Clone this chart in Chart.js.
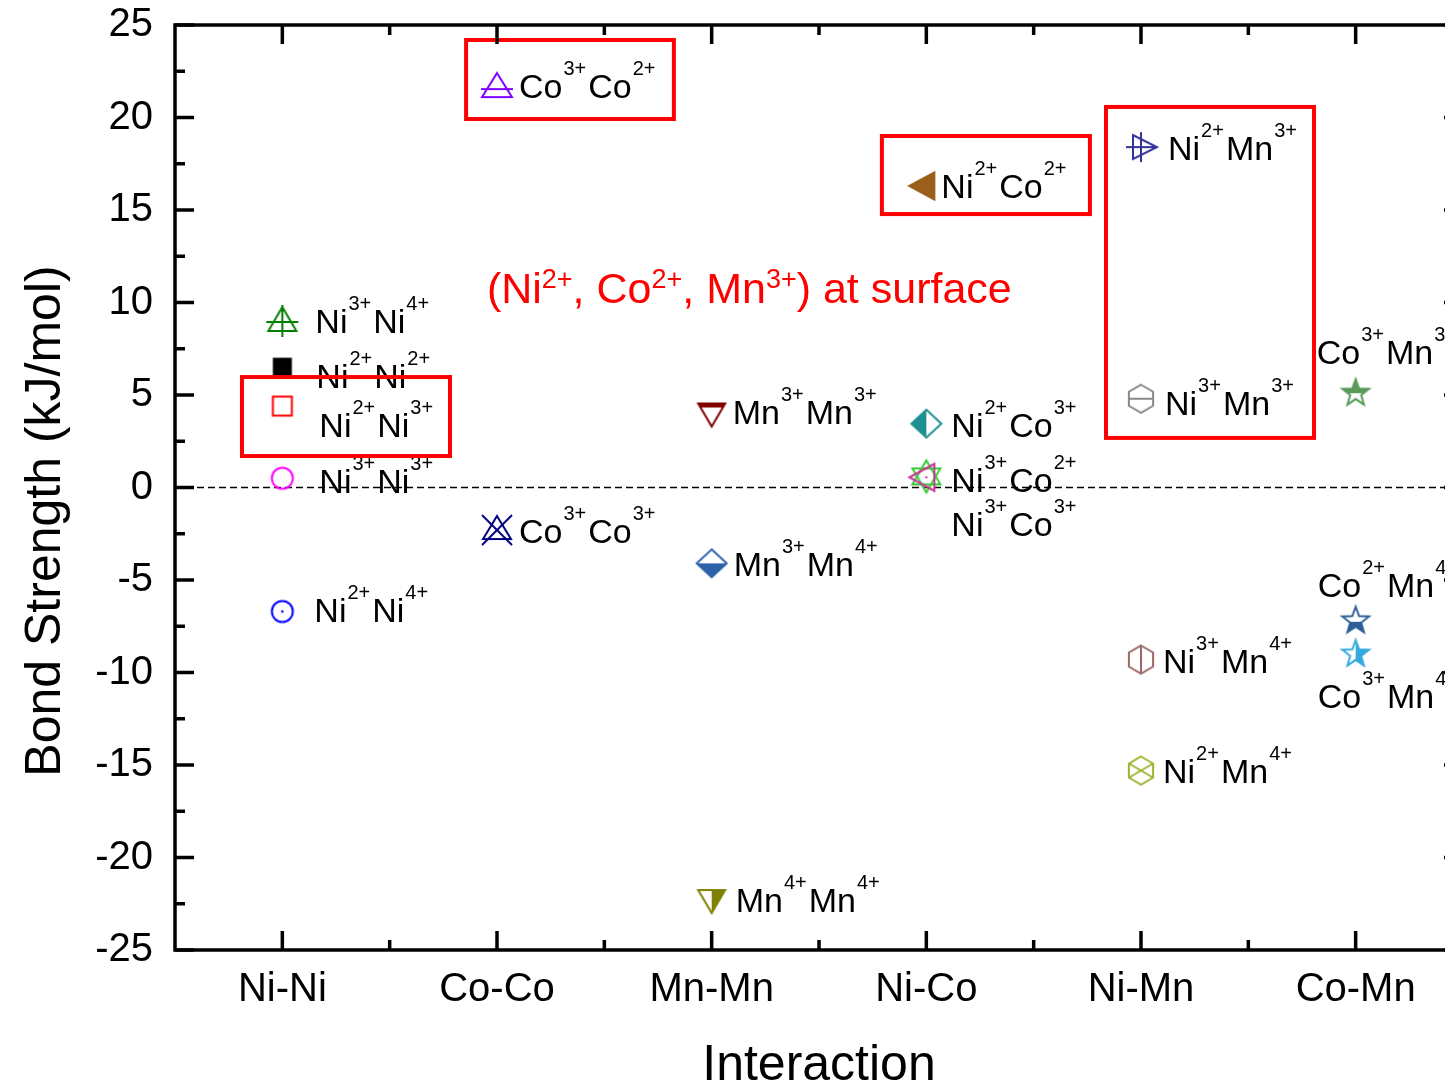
<!DOCTYPE html>
<html>
<head>
<meta charset="utf-8">
<script src="https://cdn.jsdelivr.net/npm/chart.js@4/dist/chart.umd.min.js"></script>
<style>
html, body { margin: 0; padding: 0; background: #fff; overflow: hidden; }
#wrap { width: 1480px; height: 1086px; }
</style>
</head>
<body>
<div id="wrap"><canvas id="myChart" width="1480" height="1086"></canvas></div>
<script>
// data
var categories = ["Ni-Ni", "Co-Co", "Mn-Mn", "Ni-Co", "Ni-Mn", "Co-Mn"];
var yTicks = [-25, -20, -15, -10, -5, 0, 5, 10, 15, 20, 25];
var pairLabels = [
    "Ni3+Ni4+", "Ni2+Ni2+", "Ni2+Ni3+", "Ni3+Ni3+", "Ni2+Ni4+",
    "Co3+Co2+", "Co3+Co3+",
    "Mn3+Mn3+", "Mn3+Mn4+", "Mn4+Mn4+",
    "Ni2+Co2+", "Ni2+Co3+", "Ni3+Co2+", "Ni3+Co3+",
    "Ni2+Mn3+", "Ni3+Mn3+", "Ni3+Mn4+", "Ni2+Mn4+",
    "Co3+Mn3+", "Co2+Mn4+", "Co3+Mn4+",
];
var pairCategory = [
    "Ni-Ni", "Ni-Ni", "Ni-Ni", "Ni-Ni", "Ni-Ni",
    "Co-Co", "Co-Co",
    "Mn-Mn", "Mn-Mn", "Mn-Mn",
    "Ni-Co", "Ni-Co", "Ni-Co", "Ni-Co",
    "Ni-Mn", "Ni-Mn", "Ni-Mn", "Ni-Mn",
    "Co-Mn", "Co-Mn", "Co-Mn",
];
var bondStrength = [
    9.0, 6.5, 4.4, 0.5, -6.7,
    21.75, -2.3,
    4.0, -4.1, -22.3,
    16.3, 3.45, 0.55, 0.6,
    18.4, 4.8, -9.3, -15.3,
    5.15, -7.15, -8.95,
];

// marker styles, one per pair
var markerStyles = [
    { shape: "triCross", color: "#008000" },
    { shape: "squareFill", color: "#000000" },
    { shape: "square", color: "#ff0000" },
    { shape: "circle", color: "#ff00ff" },
    { shape: "circleDot", color: "#0000ff" },
    { shape: "triLine", color: "#8000ff" },
    { shape: "triX", color: "#000080" },
    { shape: "triDownTop", color: "#800000" },
    { shape: "diamondBottom", color: "#2d62a8" },
    { shape: "triDownRight", color: "#808000" },
    { shape: "triLeftFill", color: "#9a5f1a" },
    { shape: "diamondLeft", color: "#1a9090" },
    { shape: "triLeftDot", color: "#cc3399" },
    { shape: "hexagram", color: "#33cc33" },
    { shape: "triRightCross", color: "#333399" },
    { shape: "hexH", color: "#888888" },
    { shape: "hexV", color: "#9a6666" },
    { shape: "hexX", color: "#9cb430" },
    { shape: "starTop", color: "#5a9a5a" },
    { shape: "starBottom", color: "#2e5f99" },
    { shape: "starRight", color: "#33aadd" },
];
// label offset from the point, pixels [dx, baseline dy]
var labelOffsets = [
    [33, 12], [34, 21], [37, 31], [37, 15], [32, 11],
    [22, 13], [22, 13],
    [21, 10], [22, 13], [24, 12],
    [15, 12], [25, 13], [25, 15], [25, 60],
    [27, 13], [24, 16], [22, 13], [22, 12],
    [-39, -28], [-38, -23], [-38, 55],
];
// red frames in data units [x1, x2, yTop, yBottom]
var redBoxes = [
    [0.812, 1.781, 5.97, 1.70],
    [1.856, 2.824, 24.19, 19.92],
    [3.793, 4.762, 19.0, 14.78],
    [4.837, 5.806, 20.57, 2.68],
];

var FONT = "'Liberation Sans', Arial, sans-serif";

function triPath(g, pts) {
    g.beginPath();
    g.moveTo(pts[0][0], pts[0][1]);
    for (var i = 1; i < pts.length; i++) g.lineTo(pts[i][0], pts[i][1]);
    g.closePath();
}
function starPts(ro, ri) {
    var p = [];
    for (var i = 0; i < 10; i++) {
        var r = i % 2 ? ri : ro;
        var a = -Math.PI / 2 + i * Math.PI / 5;
        p.push([r * Math.cos(a), r * Math.sin(a) + 1]);
    }
    return p;
}
function hexPts(r) {
    var p = [];
    for (var i = 0; i < 6; i++) {
        var a = -Math.PI / 2 + i * Math.PI / 3;
        p.push([r * Math.cos(a), r * Math.sin(a)]);
    }
    return p;
}
function line(g, x1, y1, x2, y2) {
    g.beginPath();
    g.moveTo(x1, y1);
    g.lineTo(x2, y2);
    g.stroke();
}
function halfFill(g, pts, cx, cy, cw, ch) {
    g.save();
    g.beginPath();
    g.rect(cx, cy, cw, ch);
    g.clip();
    triPath(g, pts);
    g.fill();
    g.restore();
    triPath(g, pts);
    g.stroke();
}

function makeMarker(m) {
    var c = document.createElement("canvas");
    c.width = 44;
    c.height = 44;
    var g = c.getContext("2d");
    g.translate(22, 22);
    g.strokeStyle = m.color;
    g.fillStyle = m.color;
    g.lineWidth = 2;
    var down = [[-13.5, -10], [13.5, -10], [0, 13]];
    var left = [[-17, 0], [8, -13.5], [8, 13.5]];
    var diamond = [[0, -14], [15, 0], [0, 14], [-15, 0]];
    var hex = hexPts(14);
    var star = starPts(14, 5.8);
    switch (m.shape) {
        case "triCross":
            triPath(g, [[0, -14], [14, 10], [-14, 10]]);
            g.stroke();
            line(g, -16, 1, 16, 1);
            line(g, 0, -16, 0, 16);
            break;
        case "squareFill":
            g.fillRect(-9.5, -9.5, 19, 19);
            break;
        case "square":
            g.strokeRect(-9.5, -9.5, 19, 19);
            break;
        case "circle":
            g.beginPath();
            g.arc(0, 0, 10.5, 0, Math.PI * 2);
            g.stroke();
            break;
        case "circleDot":
            g.beginPath();
            g.arc(0, 0, 10.5, 0, Math.PI * 2);
            g.stroke();
            g.beginPath();
            g.arc(0, 0, 1.3, 0, Math.PI * 2);
            g.fill();
            break;
        case "triLine":
            triPath(g, [[0, -12], [15, 12], [-15, 12]]);
            g.stroke();
            line(g, -16, 4, 16, 4);
            break;
        case "triX":
            triPath(g, [[0, -14], [14, 9], [-14, 9]]);
            g.stroke();
            line(g, -15, -15, 15, 15);
            line(g, 15, -15, -15, 15);
            break;
        case "triDownTop":
            halfFill(g, down, -20, -12, 40, 6);
            break;
        case "triDownRight":
            halfFill(g, down, 0, -20, 20, 40);
            break;
        case "diamondBottom":
            halfFill(g, diamond, -20, 0, 40, 20);
            break;
        case "diamondLeft":
            halfFill(g, diamond, -20, -20, 20, 40);
            break;
        case "triLeftFill":
            triPath(g, left);
            g.fill();
            g.stroke();
            break;
        case "triLeftDot":
            triPath(g, left);
            g.stroke();
            g.fillRect(-1, -1, 2, 2);
            break;
        case "hexagram":
            triPath(g, [[0, -16], [14, 8], [-14, 8]]);
            g.stroke();
            triPath(g, [[0, 16], [14, -8], [-14, -8]]);
            g.stroke();
            break;
        case "triRightCross":
            triPath(g, [[-8, -12], [16, 0], [-8, 12]]);
            g.stroke();
            line(g, -15, 0, 16, 0);
            line(g, 0, -15, 0, 15);
            break;
        case "hexH":
            triPath(g, hex);
            g.stroke();
            line(g, -12, 0, 12, 0);
            break;
        case "hexV":
            triPath(g, hex);
            g.stroke();
            line(g, 0, -14, 0, 14);
            break;
        case "hexX":
            triPath(g, hex);
            g.stroke();
            line(g, -12, -7, 12, 7);
            line(g, 12, -7, -12, 7);
            break;
        case "starTop":
            halfFill(g, star, -20, -20, 40, 21);
            break;
        case "starBottom":
            halfFill(g, star, -20, 2, 40, 20);
            break;
        case "starRight":
            halfFill(g, star, 0, -20, 20, 40);
            break;
    }
    return c;
}

// "Ni3+Ni4+" -> [["Ni","3+"],["Ni","4+"]]
function splitIons(s) {
    var out = [];
    var re = /([A-Z][a-z]?)(\d\+)/g;
    var m;
    while ((m = re.exec(s))) out.push([m[1], m[2]]);
    return out;
}

function drawIons(ctx, parts, x, y, big, small, rise, color) {
    ctx.fillStyle = color;
    ctx.textAlign = "left";
    ctx.textBaseline = "alphabetic";
    for (var i = 0; i < parts.length; i++) {
        ctx.font = big + "px " + FONT;
        ctx.fillText(parts[i][0], x, y);
        x += ctx.measureText(parts[i][0]).width + 1;
        ctx.font = small + "px " + FONT;
        ctx.fillText(parts[i][1], x, y - rise);
        x += ctx.measureText(parts[i][1]).width + 2;
    }
}

var overlay = {
    id: "overlay",
    beforeDatasetsDraw: function (chart) {
        var ctx = chart.ctx;
        var a = chart.chartArea;
        var y0 = chart.scales.y.getPixelForValue(0);
        ctx.save();
        ctx.strokeStyle = "#000";
        ctx.lineWidth = 1.5;
        ctx.setLineDash([7, 4]);
        line(ctx, a.left, y0, a.right, y0);
        ctx.restore();
    },
    afterDatasetsDraw: function (chart) {
        var ctx = chart.ctx;
        var xs = chart.scales.x;
        var ys = chart.scales.y;
        var a = chart.chartArea;
        ctx.save();

        // point labels
        for (var i = 0; i < pairLabels.length; i++) {
            var px = xs.getPixelForValue(categories.indexOf(pairCategory[i]) + 1);
            var py = ys.getPixelForValue(bondStrength[i]);
            drawIons(ctx, splitIons(pairLabels[i]), px + labelOffsets[i][0], py + labelOffsets[i][1], 34, 20, 23, "#000");
        }

        // red frames
        ctx.strokeStyle = "#ff0000";
        ctx.lineWidth = 4;
        redBoxes.forEach(function (b) {
            var x1 = xs.getPixelForValue(b[0]);
            var x2 = xs.getPixelForValue(b[1]);
            var y1 = ys.getPixelForValue(b[2]);
            var y2 = ys.getPixelForValue(b[3]);
            ctx.strokeRect(x1, y1, x2 - x1, y2 - y1);
        });

        // red note
        var nx = xs.getPixelForValue(1.953);
        var ny = ys.getPixelForValue(9.97);
        var parts = [["(Ni", "2+"], [", Co", "2+"], [", Mn", "3+"]];
        ctx.fillStyle = "#ff0000";
        var x = nx;
        parts.forEach(function (p) {
            ctx.font = "43px " + FONT;
            ctx.fillText(p[0], x, ny);
            x += ctx.measureText(p[0]).width;
            ctx.font = "27px " + FONT;
            ctx.fillText(p[1], x, ny - 15);
            x += ctx.measureText(p[1]).width;
        });
        ctx.font = "43px " + FONT;
        ctx.fillText(") at surface", x, ny);

        // frame and inward ticks
        ctx.strokeStyle = "#000";
        ctx.lineWidth = 3.5;
        ctx.strokeRect(a.left, a.top, a.right - a.left, a.bottom - a.top);
        for (var v = -25; v <= 25; v += 2.5) {
            var ty = ys.getPixelForValue(v);
            var len = v % 5 === 0 ? 19 : 10;
            line(ctx, a.left, ty, a.left + len, ty);
            line(ctx, a.right, ty, a.right - len, ty);
        }
        for (var k = 1; k <= 6; k += 0.5) {
            var tx = xs.getPixelForValue(k);
            var l2 = k % 1 === 0 ? 19 : 10;
            line(ctx, tx, a.bottom, tx, a.bottom - l2);
            line(ctx, tx, a.top, tx, a.top + l2);
        }

        // axis titles
        ctx.fillStyle = "#000";
        ctx.font = "50px " + FONT;
        ctx.textAlign = "center";
        ctx.fillText("Interaction", (a.left + a.right) / 2, 1080);
        ctx.translate(60, 521);
        ctx.rotate(-Math.PI / 2);
        ctx.fillText("Bond Strength (kJ/mol)", 0, 0);
        ctx.restore();
    },
};

var datasets = pairLabels.map(function (lab, i) {
    return {
        label: lab,
        data: [{ x: categories.indexOf(pairCategory[i]) + 1, y: bondStrength[i] }],
        pointStyle: makeMarker(markerStyles[i]),
        pointRadius: 12,
        showLine: false,
    };
});

var ctx = document.getElementById("myChart");
var myChart = new Chart(ctx, {
    type: "scatter",
    data: { datasets: datasets },
    plugins: [overlay],
    options: {
        responsive: false,
        animation: false,
        devicePixelRatio: 1,
        layout: { padding: { top: 25, right: 17, bottom: 0, left: 0 } },
        plugins: { legend: { display: false }, tooltip: { enabled: false } },
        scales: {
            x: {
                type: "linear",
                min: 0.5,
                max: 6.5,
                afterBuildTicks: function (s) {
                    s.ticks = categories.map(function (c, i) { return { value: i + 1 }; });
                },
                afterFit: function (s) {
                    s.height = 136;
                    s.paddingLeft = 0;
                    s.paddingRight = 0;
                },
                grid: { display: false, drawTicks: false },
                border: { display: false },
                ticks: {
                    padding: 16,
                    color: "#000",
                    font: { size: 40, family: FONT },
                    callback: function (v) { return categories[v - 1]; },
                },
            },
            y: {
                min: -25,
                max: 25,
                afterBuildTicks: function (s) {
                    s.ticks = yTicks.map(function (v) { return { value: v }; });
                },
                afterFit: function (s) {
                    s.width = 175;
                    s.paddingTop = 0;
                    s.paddingBottom = 0;
                },
                grid: { display: false, drawTicks: false },
                border: { display: false },
                ticks: {
                    padding: 22,
                    color: "#000",
                    font: { size: 40, family: FONT },
                },
            },
        },
    },
});
</script>
</body>
</html>
